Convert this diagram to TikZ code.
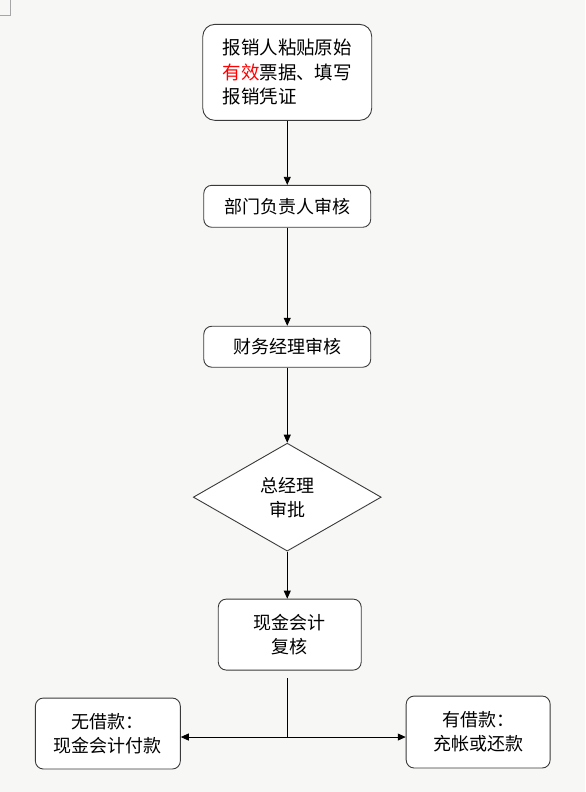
\documentclass[tikz,border=0pt]{standalone}
\usepackage{fontspec}
\usepackage{xcolor}
\newfontfamily\cjk{Noto Sans CJK SC}
\usetikzlibrary{positioning,arrows.meta,shapes.geometric}

\definecolor{pagebg}{HTML}{F7F8F5}
\definecolor{edgegray}{HTML}{3A3A3A}

\begin{document}
\begin{tikzpicture}[x=1pt, y=-1pt, node distance=134pt, on grid,
    >={Triangle[length=8pt,width=7pt]},
    box/.style={draw=edgegray, line width=0.9pt, fill=white, rounded corners=8pt,
                inner sep=0pt, align=center,
                font=\cjk\fontsize{18}{24}\selectfont},
    decide/.style={diamond, draw=edgegray, line width=0.9pt, fill=white,
                   inner sep=0pt, align=center,
                   minimum width=188pt, minimum height=108pt,
                   font=\cjk\fontsize{18}{24}\selectfont}]

    % page
    \fill[pagebg] (0,0) rectangle (585,792);
    \draw[gray!70, line width=0.8pt] (10.3,0) -- (10.3,15) -- (0,15);

    \node[box, rounded corners=12pt, align=left, minimum width=169pt, minimum height=96pt,
          font=\cjk\fontsize{18.5}{24.5}\selectfont]
        (submit) at (287,72) {报销人粘贴原始\\\textcolor{red}{有效}票据、填写\\报销凭证};
    \node[box, minimum width=167pt, minimum height=42pt] (dept) [below=of submit] {部门负责人审核};
    \node[box, minimum width=167pt, minimum height=41pt] (fin) [below=140.5pt of dept] {财务经理审核};
    \node[decide] (gm) [below=150.5pt of fin] {总经理\\审批};
    \node[box, minimum width=143pt, minimum height=71pt] (check) [below=137.5pt of gm, xshift=2.5pt] {现金会计\\复核};

    \node[box, minimum width=145pt, minimum height=71pt] (noloan)
        [below left=99pt and 182pt of check] {无借款：\\现金会计付款};
    \node[box, minimum width=144pt, minimum height=72pt] (loan)
        [below right=97.5pt and 188.5pt of check] {有借款：\\充帐或还款};

    \coordinate (stem) at (287,678);
    \coordinate (split) at (287,737);

    \path[->, draw=black, line width=0.8pt]
        (submit) edge (dept)
        (dept) edge (fin)
        (fin) edge (gm);
    \draw[->, line width=0.8pt] (gm) -- (gm |- check.north);

    \draw[line width=0.8pt] (stem) -- (split);
    \draw[<->, line width=0.8pt] (noloan.east |- split) -- (loan.west |- split);

\end{tikzpicture}
\end{document}
